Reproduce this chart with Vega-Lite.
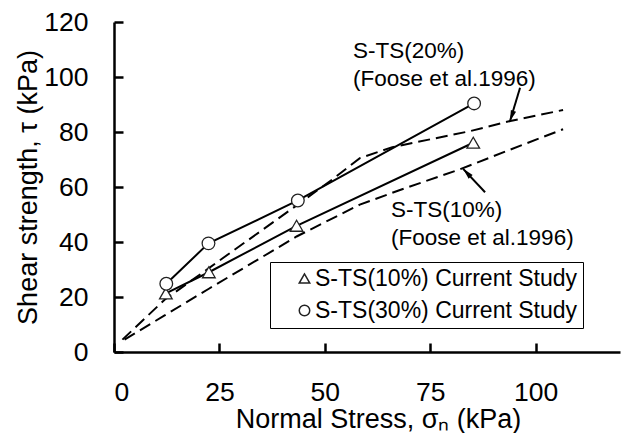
{
  "$schema": "https://vega.github.io/schema/vega-lite/v6.json",
  "width": 506,
  "height": 330,
  "autosize": {"type": "none"},
  "padding": {"left": 114, "top": 22, "right": 5, "bottom": 81},
  "background": "white",
  "config": {
    "view": {"stroke": null},
    "font": "Liberation Sans",
    "axis": {
      "grid": false,
      "ticks": true,
      "domainColor": "black",
      "domainWidth": 2.5,
      "tickColor": "black",
      "tickOpacity": 1,
      "tickWidth": 2.5,
      "tickSize": -9,
      "labelColor": "black",
      "labelFont": "Liberation Sans",
      "labelFontSize": 26.5,
      "titleFont": "Liberation Sans",
      "titleFontSize": 27,
      "titleFontWeight": "normal",
      "titleColor": "black"
    }
  },
  "datasets": {
    "study": [
      {"series": "S-TS(10%) Current Study", "stress": 12.3, "tau": 21.3},
      {"series": "S-TS(10%) Current Study", "stress": 22.5, "tau": 29.0},
      {"series": "S-TS(10%) Current Study", "stress": 43.3, "tau": 45.9},
      {"series": "S-TS(10%) Current Study", "stress": 85.2, "tau": 76.1},
      {"series": "S-TS(30%) Current Study", "stress": 12.4, "tau": 24.8},
      {"series": "S-TS(30%) Current Study", "stress": 22.4, "tau": 39.5},
      {"series": "S-TS(30%) Current Study", "stress": 43.6, "tau": 55.1},
      {"series": "S-TS(30%) Current Study", "stress": 85.4, "tau": 90.4}
    ],
    "foose": [
      {"series": "S-TS(20%) Foose", "stress": 2.0, "tau": 4.5},
      {"series": "S-TS(20%) Foose", "stress": 12.0, "tau": 19.0},
      {"series": "S-TS(20%) Foose", "stress": 22.5, "tau": 30.5},
      {"series": "S-TS(20%) Foose", "stress": 43.5, "tau": 53.5},
      {"series": "S-TS(20%) Foose", "stress": 52.0, "tau": 63.0},
      {"series": "S-TS(20%) Foose", "stress": 58.3, "tau": 70.5},
      {"series": "S-TS(20%) Foose", "stress": 66.0, "tau": 74.5},
      {"series": "S-TS(20%) Foose", "stress": 84.4, "tau": 80.3},
      {"series": "S-TS(20%) Foose", "stress": 94.0, "tau": 84.0},
      {"series": "S-TS(20%) Foose", "stress": 106.5, "tau": 88.0},
      {"series": "S-TS(10%) Foose", "stress": 2.5, "tau": 4.5},
      {"series": "S-TS(10%) Foose", "stress": 12.0, "tau": 13.3},
      {"series": "S-TS(10%) Foose", "stress": 22.5, "tau": 23.0},
      {"series": "S-TS(10%) Foose", "stress": 43.3, "tau": 42.0},
      {"series": "S-TS(10%) Foose", "stress": 58.3, "tau": 53.6},
      {"series": "S-TS(10%) Foose", "stress": 68.0, "tau": 59.0},
      {"series": "S-TS(10%) Foose", "stress": 82.0, "tau": 66.4},
      {"series": "S-TS(10%) Foose", "stress": 94.0, "tau": 73.6},
      {"series": "S-TS(10%) Foose", "stress": 106.5, "tau": 81.0}
    ],
    "arrows": [
      {"arrow": "a20", "xfrom": 96.3, "yfrom": 96.1, "xto": 93.9, "yto": 83.9},
      {"arrow": "a10", "xfrom": 88.0, "yfrom": 58.1, "xto": 82.8, "yto": 66.6}
    ],
    "notes": [
      {"note": "S-TS(20%)", "nx": 56.7, "ny": 109.6},
      {"note": "(Foose et al.1996)", "nx": 56.7, "ny": 99.4},
      {"note": "S-TS(10%)", "nx": 65.7, "ny": 51.8},
      {"note": "(Foose et al.1996)", "nx": 65.7, "ny": 41.6}
    ]
  },
  "layer": [
    {
      "data": {"name": "foose"},
      "mark": {"type": "line", "color": "black", "strokeWidth": 2, "strokeDash": [12, 6]},
      "encoding": {
        "x": {
          "field": "stress", "type": "quantitative",
          "scale": {"domain": [0, 120], "nice": false},
          "axis": {
            "values": [0, 25, 50, 75, 100],
            "title": "Normal Stress, σₙ (kPa)",
            "titleX": 264,
            "titleY": 75,
            "titleBaseline": "alphabetic",
            "labelPadding": 36
          }
        },
        "y": {
          "field": "tau", "type": "quantitative",
          "scale": {"domain": [0, 120], "nice": false},
          "axis": {
            "values": [0, 20, 40, 60, 80, 100, 120],
            "title": "Shear strength, τ (kPa)",
            "labelPadding": 35,
            "titlePadding": 1
          }
        },
        "detail": {"field": "series"}
      }
    },
    {
      "data": {"name": "study"},
      "mark": {"type": "line", "color": "black", "strokeWidth": 2},
      "encoding": {
        "x": {"field": "stress", "type": "quantitative"},
        "y": {"field": "tau", "type": "quantitative"},
        "detail": {"field": "series"}
      }
    },
    {
      "data": {"name": "study"},
      "mark": {"type": "point", "filled": true, "fill": "white", "stroke": "#222222", "strokeWidth": 1.3, "opacity": 1, "size": 160},
      "encoding": {
        "x": {"field": "stress", "type": "quantitative"},
        "y": {"field": "tau", "type": "quantitative"},
        "shape": {
          "field": "series", "type": "nominal",
          "scale": {"domain": ["S-TS(10%) Current Study", "S-TS(30%) Current Study"], "range": ["triangle-up", "circle"]},
          "legend": {
            "title": null,
            "orient": "none",
            "legendX": 156,
            "legendY": 240,
            "padding": 5,
            "fillColor": "white",
            "strokeColor": "black",
            "labelFont": "Liberation Sans",
            "labelFontSize": 23,
            "labelColor": "black",
            "labelLimit": 400,
            "symbolSize": 110,
            "symbolOffset": 18,
            "labelOffset": -1,
            "rowPadding": 8,
            "encode": {
              "legend": {"update": {"strokeWidth": {"value": 2}}},
              "symbols": {
                "update": {
                  "fill": {"value": "white"},
                  "stroke": {"value": "black"},
                  "strokeWidth": {"value": 1.5},
                  "opacity": {"value": 1}
                }
              }
            }
          }
        }
      }
    },
    {
      "data": {"name": "arrows"},
      "mark": {"type": "rule", "color": "black", "strokeWidth": 2},
      "encoding": {
        "x": {"field": "xfrom", "type": "quantitative"},
        "y": {"field": "yfrom", "type": "quantitative"},
        "x2": {"field": "xto"},
        "y2": {"field": "yto"}
      }
    },
    {
      "data": {"name": "arrows"},
      "transform": [{"filter": "datum.arrow === 'a20'"}],
      "mark": {"type": "point", "shape": "M0,0L0.55,2.2L-0.55,2.2Z", "filled": true, "color": "black", "opacity": 1, "size": 100, "angle": 198.7},
      "encoding": {
        "x": {"field": "xto", "type": "quantitative"},
        "y": {"field": "yto", "type": "quantitative"}
      }
    },
    {
      "data": {"name": "arrows"},
      "transform": [{"filter": "datum.arrow === 'a10'"}],
      "mark": {"type": "point", "shape": "M0,0L0.55,2.2L-0.55,2.2Z", "filled": true, "color": "black", "opacity": 1, "size": 100, "angle": 317},
      "encoding": {
        "x": {"field": "xto", "type": "quantitative"},
        "y": {"field": "yto", "type": "quantitative"}
      }
    },
    {
      "data": {"name": "notes"},
      "mark": {"type": "text", "align": "left", "baseline": "middle", "font": "Liberation Sans", "fontSize": 22.5, "color": "black"},
      "encoding": {
        "x": {"field": "nx", "type": "quantitative"},
        "y": {"field": "ny", "type": "quantitative"},
        "text": {"field": "note", "type": "nominal"}
      }
    }
  ]
}
